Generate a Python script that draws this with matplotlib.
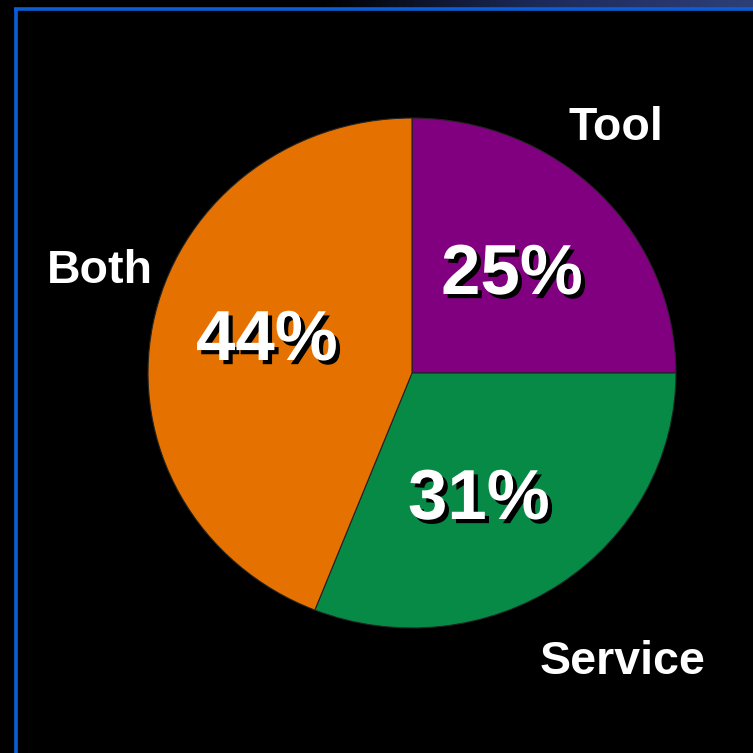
import numpy as np
import matplotlib
matplotlib.use("Agg")
import matplotlib.pyplot as plt
import matplotlib.patheffects as pe
from matplotlib.lines import Line2D

# Chart data
categories = ["Tool", "Service", "Both"]
shares = [25, 31, 44]
pct_labels = ["25%", "31%", "44%"]
colors = ["#800080", "#078A45", "#E57200"]

plt.rcParams["font.family"] = ["Liberation Sans", "DejaVu Sans"]

W = H = 753
fig = plt.figure(figsize=(7.53, 7.53), dpi=100, facecolor="black")


def fx(px):
    return px / W


def fy(py):
    return 1 - py / H


# Faint gradient strip at the top right, above the frame
grad_ax = fig.add_axes([fx(320), fy(8), fx(753 - 320), 8 / H])
grad = np.linspace(0, 1, 256)[None, :]
grad_ax.imshow(grad, aspect="auto", cmap=matplotlib.colors.LinearSegmentedColormap.from_list(
    "g", ["#000000", "#1c2a5a", "#2e3f78"]))
grad_ax.axis("off")

# Blue frame
blue = "#0B5FD6"
fig.add_artist(Line2D([fx(14), fx(753)], [fy(8.5), fy(8.5)], color=blue, lw=2.6,
                      transform=fig.transFigure, solid_capstyle="butt"))
fig.add_artist(Line2D([fx(15.5), fx(15.5)], [fy(7.5), fy(753)], color=blue, lw=2.6,
                      transform=fig.transFigure, solid_capstyle="butt"))

# Pie (slightly wider than tall, as in the original)
ax = fig.add_axes([fx(148), fy(628), fx(676 - 148), (628 - 118) / H])
ax.set_facecolor("black")
ax.pie(shares, colors=colors, startangle=90, counterclock=False, radius=1,
       wedgeprops=dict(edgecolor="#222222", linewidth=0.8))
ax.set_xlim(-1, 1)
ax.set_ylim(-1, 1)
ax.set_aspect("auto")
ax.axis("off")

shadow = [pe.withSimplePatchShadow(offset=(3, -3), shadow_rgbFace="black", alpha=1.0)]

# Category labels (x centre, baseline y) in pixels
label_pos = [(616, 140), (623, 674), (100, 283)]
for name, (x, y) in zip(categories, label_pos):
    fig.text(fx(x), fy(y), name, color="white", fontsize=33.5, fontweight="bold",
             ha="center", va="baseline")

# Percentage labels with drop shadow
pct_pos = [(512, 294), (479, 519), (267, 360)]
for txt, (x, y) in zip(pct_labels, pct_pos):
    fig.text(fx(x), fy(y), txt, color="white", fontsize=51, fontweight="bold",
             ha="center", va="baseline", path_effects=shadow)

fig.savefig("out.png", dpi=100, facecolor="black")
